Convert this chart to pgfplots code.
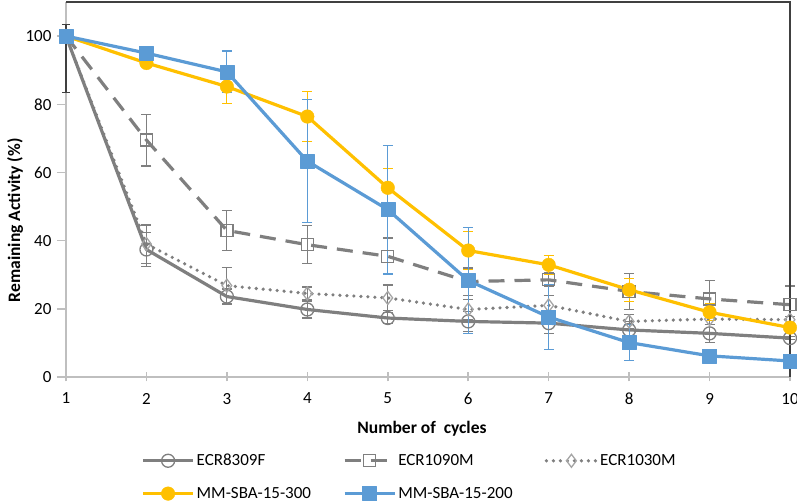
\documentclass[border=0pt]{standalone}
\usepackage{fontspec}
\setmainfont{Carlito}
\usepackage{pgfplots}
\pgfplotsset{compat=1.18}
\definecolor{cgray}{HTML}{7F7F7F}
\definecolor{cdia}{HTML}{A5A5A5}
\definecolor{corange}{HTML}{FFC000}
\definecolor{cblue}{HTML}{5B9BD5}
\definecolor{caxis}{HTML}{BFBFBF}
\definecolor{cframe}{HTML}{404040}
\begin{document}
\begin{tikzpicture}
\begin{axis}[
  at={(0,0)}, anchor=south west,
  scale only axis, width=724pt, height=375pt,
  xmin=1, xmax=10, ymin=0, ymax=110,
  axis x line=bottom, axis y line=left,
  axis line style={-, caxis, line width=1.8pt},
  xtick={1,...,10}, ytick={0,20,...,100},
  x tick style={caxis, line width=1.5pt}, y tick style={caxis, line width=1.5pt},
  xtick align=center, ytick align=outside,
  major tick length=9pt,
  tick label style={font=\fontsize{17pt}{20pt}\selectfont, text=black},
  /pgf/number format/assume math mode=true,
  xticklabel style={yshift=-8pt},
  yticklabel style={xshift=-2pt},
  xlabel={Number of\ \ cycles},
  ylabel={Remaining Activity (\%)},
  label style={font=\bfseries\fontsize{17.5pt}{20pt}\selectfont},
  xlabel style={at={(axis description cs:0.4917,-0.1387)}, anchor=center},
  ylabel style={at={(axis description cs:-0.0704,0.418)}, anchor=center, rotate=0},
  legend columns=3,
  legend cell align=left,
  legend style={draw=none, fill=none, inner sep=0pt, at={(axis description cs:0.104,-0.2027)}, anchor=north west,
    font=\fontsize{17pt}{20pt}\selectfont, row sep=18pt,
    nodes={inner xsep=2pt, inner ysep=1pt},
    /tikz/every even column/.append style={column sep=30pt}},
  legend image code/.code={\draw[mark repeat=2, mark phase=2, #1] plot coordinates {(0pt,0pt) (25pt,0pt) (50pt,0pt)};},
  clip=false,
  error bars/y dir=both, error bars/y explicit,
]
% dark error bar at x=1
\addplot[draw=none, forget plot, mark=none,
  error bars/error bar style={cframe, line width=1.2pt, solid},
  error bars/error mark options={cframe, rotate=90, mark size=4pt, line width=1.2pt, solid}]
  coordinates {(1,93.5) +- (0,10)};
\addplot[cgray, line width=3.2pt, line join=round, mark=o,
  mark options={solid, line width=1.3pt, mark size=6.5pt},
  error bars/error bar style={cgray, line width=1.2pt, solid},
  error bars/error mark options={cgray, rotate=90, mark size=5pt, line width=1.2pt, solid}]
  coordinates {(1,100) +- (0,0) (2,37.4) +- (0,5) (3,23.6) +- (0,2.2) (4,19.8) +- (0,2.5) (5,17.3) +- (0,1.7)
  (6,16.3) +- (0,3) (7,15.8) +- (0,3) (8,13.8) +- (0,2.5) (9,12.8) +- (0,2.6) (10,11.4) +- (0,0.5)};
\addlegendentry{ECR8309F}
\addplot[cgray, line width=3.2pt, dash pattern=on 16pt off 10pt, mark=square,
  mark options={solid, line width=1.3pt, mark size=6pt},
  error bars/error bar style={cgray, line width=1.2pt, solid},
  error bars/error mark options={cgray, rotate=90, mark size=5pt, line width=1.2pt, solid}]
  coordinates {(1,100) +- (0,0) (2,69.5) +- (0,7.6) (3,43) +- (0,5.9) (4,38.8) +- (0,5.6) (5,35.4) +- (0,5.4)
  (6,28.0) +- (0,4) (7,28.5) +- (0,2) (8,25.1) +- (0,5.2) (9,22.9) +- (0,5.4) (10,21.2) +- (0,5.5)};
\addlegendentry{ECR1090M}
\addplot[cgray, line width=3.6pt, line cap=round, dash pattern=on 0pt off 7pt, mark=diamond,
  mark options={solid, cdia, line width=1.3pt, mark size=6.5pt},
  error bars/error bar style={cgray, line width=1.2pt, solid, line cap=butt},
  error bars/error mark options={cgray, rotate=90, mark size=5pt, line width=1.2pt, solid, line cap=butt}]
  coordinates {(1,100) +- (0,0) (2,39) +- (0,5.6) (3,26.8) +- (0,5.3) (4,24.5) +- (0,1.9) (5,23.2) +- (0,3.8)
  (6,19.8) +- (0,3) (7,21) +- (0,3) (8,16.3) +- (0,2) (9,17) +- (0,1.5) (10,16.8) +- (0,1)};
\addlegendentry{ECR1030M}
\addplot[corange, line width=3.2pt, line join=round, mark=*,
  mark options={solid, fill=corange, draw=corange, line width=0.4pt, mark size=6.8pt},
  error bars/error bar style={corange, line width=1.2pt, solid},
  error bars/error mark options={corange, rotate=90, mark size=5pt, line width=1.2pt, solid}]
  coordinates {(1,100) +- (0,0) (2,92.1) +- (0,1) (3,85.2) +- (0,5) (4,76.4) +- (0,7.4) (5,55.5) +- (0,5.7)
  (6,37.1) +- (0,5.5) (7,32.9) +- (0,2.7) (8,25.6) +- (0,3.4) (9,19) +- (0,2.5) (10,14.5) +- (0,1)};
\addlegendentry{MM-SBA-15-300}
\addplot[cblue, line width=3.2pt, line join=round, mark=square*,
  mark options={solid, fill=cblue, draw=cblue, line width=0.4pt, mark size=7pt},
  error bars/error bar style={cblue, line width=1.2pt, solid},
  error bars/error mark options={cblue, rotate=90, mark size=5pt, line width=1.2pt, solid}]
  coordinates {(1,100) +- (0,0) (2,95) +- (0,1) (3,89.5) +- (0,6.1) (4,63.3) +- (0,18) (5,49.1) +- (0,18.9)
  (6,28.3) +- (0,15.6) (7,17.6) +- (0,9.5) (8,10.1) +- (0,5.3) (9,6.2) +- (0,0.5) (10,4.7) +- (0,0.5)};
\addlegendentry{MM-SBA-15-200}
\draw[cframe, line width=1.8pt] (rel axis cs:0,1) -- (rel axis cs:1,1) -- (rel axis cs:1,0);
\end{axis}
\pgfresetboundingbox
\path[use as bounding box] (-66pt,-125pt) rectangle (731pt,377pt);
\end{tikzpicture}
\end{document}
